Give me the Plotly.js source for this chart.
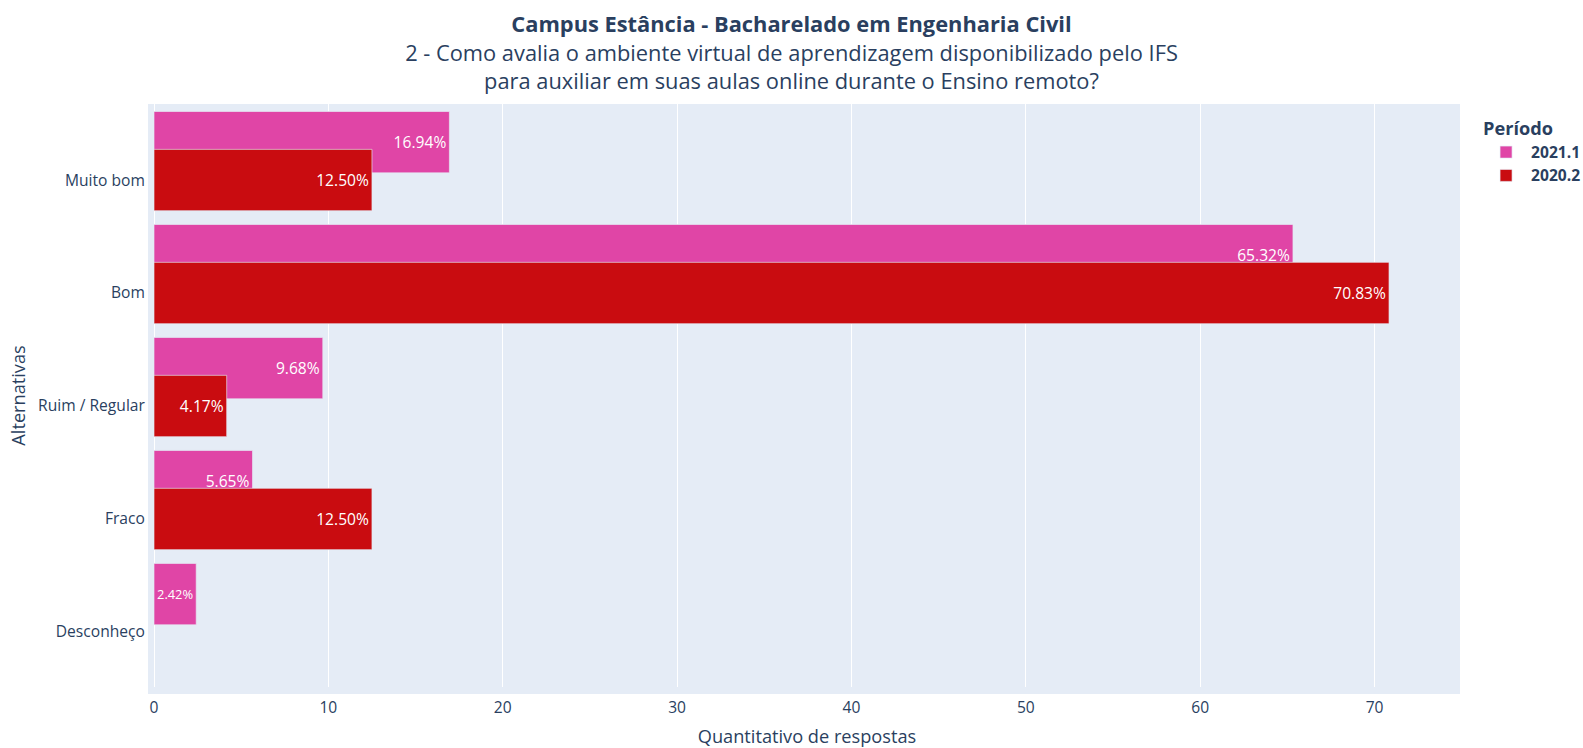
<!DOCTYPE html>
<html>
<head>
<meta charset="utf-8">
<script src="https://cdn.plot.ly/plotly-3.0.1.min.js"></script>
<style>html,body{margin:0;padding:0;background:#fff;}#chart{width:1583px;height:748px;}</style>
</head>
<body>
<div id="chart"></div>
<script>
const categories = ['Muito bom', 'Bom', 'Ruim / Regular', 'Fraco', 'Desconheço'];
const periods = ['2021.1', '2020.2'];
const values2021_1 = [16.94, 65.32, 9.68, 5.65, 2.42];
const values2020_2 = [12.50, 70.83, 4.17, 12.50, null];
const colors = ['#E045A6', '#C90C10'];

const titleLine1 = 'Campus Estância - Bacharelado em Engenharia Civil';
const titleLine2 = '2 - Como avalia o ambiente virtual de aprendizagem disponibilizado pelo IFS';
const titleLine3 = 'para auxiliar em suas aulas online durante o Ensino remoto?';

const S = 1.3;
const barW = 0.543;
const offsets = [-0.335 - barW / 2, -barW / 2];
const seriesVals = [values2021_1, values2020_2];

const traces = periods.map((p, i) => ({
  type: 'bar',
  orientation: 'h',
  name: p,
  legendgroup: 'g' + i,
  y: categories,
  x: seriesVals[i],
  texttemplate: '%{x:.2f}%',
  textposition: 'inside',
  insidetextanchor: 'end',
  textangle: 0,
  textfont: {color: '#ffffff', size: 12 * S},
  marker: {color: colors[i], line: {color: '#E5ECF6', width: 0.5 * S}},
  width: barW,
  offset: offsets[i],
  hoverinfo: 'x+y+name'
}));

const layout = {
  width: 1583,
  height: 748,
  barmode: 'overlay',
  paper_bgcolor: '#ffffff',
  plot_bgcolor: '#E5ECF6',
  font: {family: '"Open Sans", verdana, arial, sans-serif', size: 12 * S, color: '#2a3f5f'},
  margin: {l: 154, r: 123, t: 104, b: 61, pad: 0},
  title: {
    text: '<b>' + titleLine1 + '</b><br>' + titleLine2 + '<br>' + titleLine3,
    x: 0.5, xref: 'container', xanchor: 'center',
    y: 0.957, yref: 'container', yanchor: 'top',
    font: {size: 16.8 * S, color: '#2a3f5f'}
  },
  xaxis: {
    title: {text: 'Quantitativo de respostas', font: {size: 14 * S}},
    gridcolor: '#ffffff', gridwidth: 1,
    zeroline: true, zerolinecolor: '#ffffff', zerolinewidth: 2,
    showline: true, linecolor: '#E5ECF6', linewidth: 7,
    ticks: '', tickfont: {size: 12 * S},
    range: [0, 74.9]
  },
  yaxis: {
    title: {text: 'Alternativas', font: {size: 14 * S}, standoff: 10},
    type: 'category',
    categoryorder: 'array', categoryarray: categories,
    range: [4.487, -0.673],
    showgrid: false,
    showline: true, linecolor: '#E5ECF6', linewidth: 6,
    ticks: '', tickfont: {size: 12 * S}
  },
  legend: {
    title: {text: 'Período', font: {size: 14 * S, weight: 'bold'}},
    font: {size: 12 * S, weight: 'bold'},
    xref: 'container', x: 0.9356, y: 0.9866, xanchor: 'left', yanchor: 'top',
    itemwidth: 40,
    traceorder: 'normal',
    tracegroupgap: 3
  },
  showlegend: true
};

Plotly.newPlot('chart', traces, layout, {displayModeBar: false, responsive: false});
</script>
</body>
</html>
